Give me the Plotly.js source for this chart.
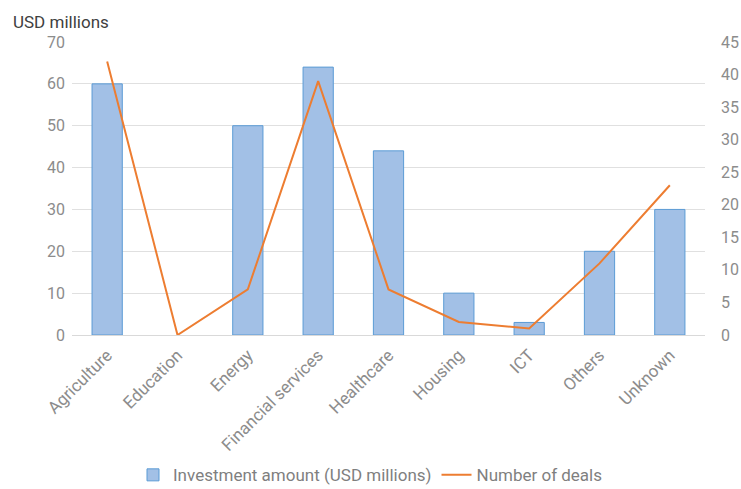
<!DOCTYPE html>
<html>
<head>
<meta charset="utf-8">
<script src="https://cdn.plot.ly/plotly-3.0.1.min.js"></script>
<style>html,body{margin:0;padding:0;background:#fff;}#chart{width:741px;height:489px;}</style>
</head>
<body>
<div id="chart"></div>
<script>
const categories = ["Agriculture", "Education", "Energy", "Financial services", "Healthcare", "Housing", "ICT", "Others", "Unknown"];
const investment = [60, 0, 50, 64, 44, 10, 3, 20, 30];
const deals = [42, 0, 7, 39, 7, 2, 1, 11, 23];
const leftTicks = [0, 10, 20, 30, 40, 50, 60, 70];
const rightTicks = [0, 5, 10, 15, 20, 25, 30, 35, 40, 45];

const tickFont = {family: "Roboto, 'Noto Sans', sans-serif", size: 16, color: "#8c8c8c"};
const xTickFont = {family: "Roboto, 'Noto Sans', sans-serif", size: 17, color: "#8c8c8c"};

const traces = [
  {
    type: "bar",
    name: "Investment amount (USD millions)",
    x: categories,
    y: investment,
    marker: {color: "#a2c0e6", line: {color: "#5b9bd5", width: investment.map(v => v === 0 ? 0 : 1)}},
    yaxis: "y"
  },
  {
    type: "scatter",
    mode: "lines",
    name: "Number of deals",
    x: categories,
    y: deals,
    line: {color: "#ed7d31", width: 2},
    yaxis: "y2"
  }
];

const layout = {
  width: 741,
  height: 489,
  margin: {l: 72, r: 36, t: 42, b: 154, autoexpand: false},
  paper_bgcolor: "#ffffff",
  plot_bgcolor: "#ffffff",
  bargap: 0.57,
  showlegend: true,
  legend: {
    orientation: "h",
    xref: "container", yref: "container",
    x: 0.5, xanchor: "center",
    y: 0.028, yanchor: "middle",
    font: {family: "Roboto, 'Noto Sans', sans-serif", size: 17, color: "#7f7f7f"},
    traceorder: "normal",
    itemwidth: 30
  },
  xaxis: {
    type: "category",
    tickangle: -45,
    tickfont: xTickFont,
    showgrid: false,
    showline: false,
    ticks: "",
    zeroline: false,
    automargin: false,
    ticklabelstandoff: 6
  },
  yaxis: {
    range: [0, 70],
    tickvals: leftTicks,
    tickfont: tickFont,
    showgrid: true,
    gridcolor: "#e0e0e0",
    gridwidth: 1,
    zeroline: true,
    zerolinecolor: "#d9d9d9",
    zerolinewidth: 1,
    showline: false,
    ticks: "",
    ticklabelstandoff: 6,
    automargin: false
  },
  yaxis2: {
    range: [0, 45],
    tickvals: rightTicks,
    overlaying: "y",
    side: "right",
    tickfont: tickFont,
    showgrid: false,
    zeroline: false,
    showline: false,
    ticks: "",
    ticklabelstandoff: 15,
    automargin: false
  },
  annotations: [
    {
      text: "USD millions",
      xref: "paper", yref: "paper",
      x: -0.097, y: 1.068,
      xanchor: "left", yanchor: "middle",
      showarrow: false,
      font: {family: "Roboto, 'Noto Sans', sans-serif", size: 17, color: "#404040"}
    }
  ]
};

Plotly.newPlot("chart", traces, layout, {displayModeBar: false, staticPlot: true});
</script>
</body>
</html>
